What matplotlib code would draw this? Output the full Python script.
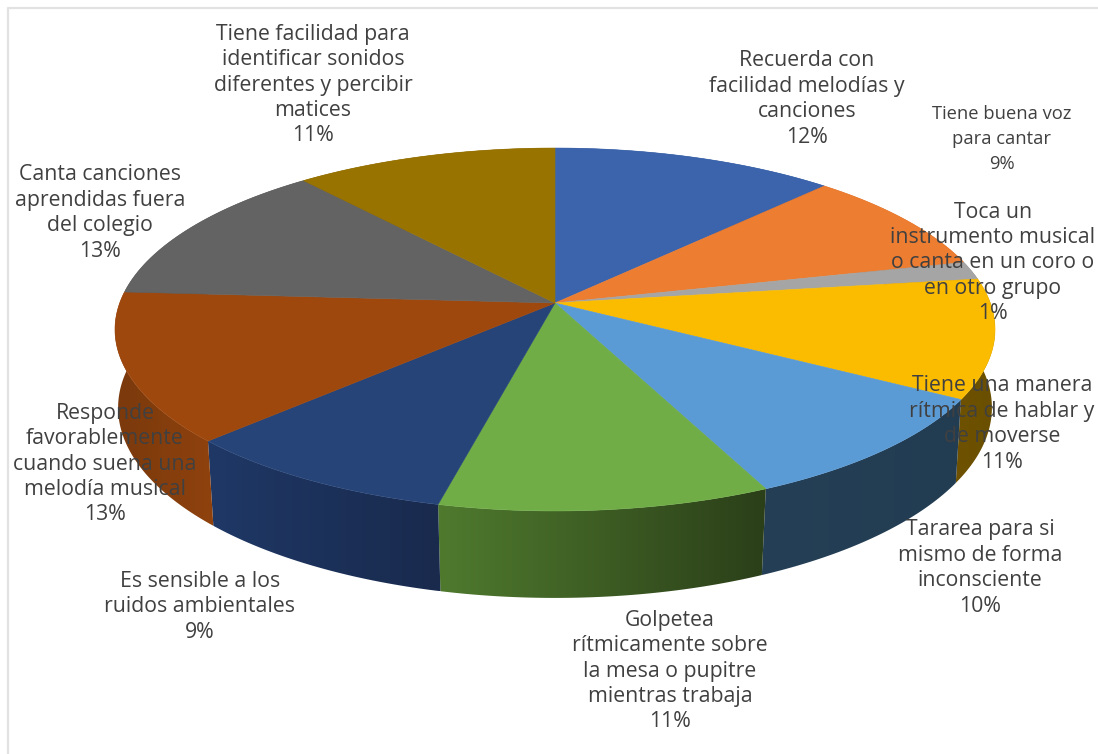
import numpy as np
import matplotlib
matplotlib.use("Agg")
import matplotlib.pyplot as plt
from matplotlib.patches import Polygon

categories = ["Recuerda con\nfacilidad melodías y\ncanciones",
              "Tiene buena voz\npara cantar",
              "Toca un\ninstrumento musical\no canta en un coro o\nen otro grupo",
              "Tiene una manera\nrítmica de hablar y\nde moverse",
              "Tararea para si\nmismo de forma\ninconsciente",
              "Golpetea\nrítmicamente sobre\nla mesa o pupitre\nmientras trabaja",
              "Es sensible a los\nruidos ambientales",
              "Responde\nfavorablemente\ncuando suena una\nmelodía musical",
              "Canta canciones\naprendidas fuera\ndel colegio",
              "Tiene facilidad para\nidentificar sonidos\ndiferentes y percibir\nmatices"]
# slice sizes, the printed labels are rounded
values = [12.0, 9.2, 1.6, 10.6, 9.7, 10.6, 9.0, 13.3, 12.9, 11.1]
percent_labels = [12, 9, 1, 11, 10, 11, 9, 13, 13, 11]

top_colors = ["#3B64AD", "#ED7D31", "#A5A5A5", "#FBBC00", "#5B9BD5",
              "#70AD47", "#264478", "#9E480E", "#636363", "#997300"]
side_left = ["#2A4A80", "#A85820", "#707070", "#6E5200", "#253F56",
             "#4F7A2E", "#1F3866", "#7A390C", "#444444", "#6A5000"]
side_right = ["#2A4A80", "#A85820", "#707070", "#6A4F00", "#223C52",
              "#2B3F19", "#192A4D", "#8F420E", "#444444", "#6A5000"]

label_x = [807, 1002, 993, 1002, 980, 670, 200, 105, 100, 313]
label_y = [99, 139, 263, 424, 568, 671, 607, 464, 213, 85]
label_size = [15.3, 13.2, 15.3, 15.3, 15.3, 15.3, 15.3, 15.3, 15.3, 15.3]

# perspective of the pie
cx, cy = 555, 303
a, b, k = 435.3, 177.6, 0.146
d0, dk = 80, 0.08


def top_edge(theta):
    x, y = np.sin(theta), np.cos(theta)
    w = 1 + k * y
    return cx + a * x / w, cy - b * y / w


def bottom_edge(theta):
    px, py = top_edge(theta)
    shrink = 0.995 + 0.015 * np.cos(theta)
    return cx + (px - cx) * shrink, py + d0 / (1 + dk * np.cos(theta))


fig = plt.figure(figsize=(10.98, 7.54), dpi=100)
ax = fig.add_axes([0, 0, 1, 1])

edges = np.concatenate([[0], np.cumsum(values)]) / np.sum(values) * 2 * np.pi

# sides first, the top faces hide whatever is at the back
for i in range(len(values)):
    th = np.linspace(edges[i], edges[i + 1], 80)
    tx, ty = top_edge(th)
    bx, by = bottom_edge(th)
    pts = np.column_stack([np.concatenate([tx, bx[::-1]]), np.concatenate([ty, by[::-1]])])
    poly = Polygon(pts, closed=True, facecolor="none", edgecolor="none")
    ax.add_patch(poly)
    c1 = np.array(matplotlib.colors.to_rgb(side_left[i]))
    c2 = np.array(matplotlib.colors.to_rgb(side_right[i]))
    grad = np.linspace(c1, c2, 64)[None, :, :]
    im = ax.imshow(grad, extent=[pts[:, 0].min(), pts[:, 0].max(), pts[:, 1].max(), pts[:, 1].min()],
                   aspect="auto", zorder=1, interpolation="bilinear")
    im.set_clip_path(poly)

for i in range(len(values)):
    th = np.linspace(edges[i], edges[i + 1], 80)
    tx, ty = top_edge(th)
    pts = np.column_stack([np.concatenate([[cx], tx]), np.concatenate([[cy], ty])])
    ax.add_patch(Polygon(pts, closed=True, facecolor=top_colors[i], edgecolor=top_colors[i],
                         linewidth=0.4, zorder=2))

for i in range(len(categories)):
    # line distance stays the same when one label is set smaller
    ax.text(label_x[i], label_y[i], f"{categories[i]}\n{percent_labels[i]}%", ha="center", va="center",
            family="Open Sans", fontsize=label_size[i], color="#404040",
            linespacing=1.28 * 15.3 / label_size[i], zorder=3)

# light frame round the chart
ax.plot([8, 8, 1098], [754, 8, 8], color="#E2E2E2", linewidth=1.6, zorder=0)

ax.set_xlim(0, 1098)
ax.set_ylim(754, 0)
ax.axis("off")

fig.savefig("out.png", dpi=100)
